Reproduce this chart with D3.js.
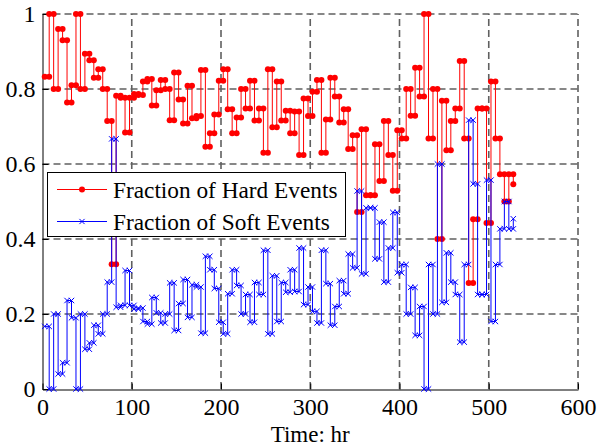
<!DOCTYPE html>
<html><head><meta charset="utf-8">
<script src="https://cdn.jsdelivr.net/npm/d3@7/dist/d3.min.js"></script>
<style>
body{margin:0;background:#fff;}
svg text{font-family:"Liberation Serif","Times New Roman",serif !important;fill:#000;}
</style>
</head><body><svg id="c" width="599" height="447"></svg>
<script>
// time of each sample (hours)
const timesHr = [
  2.5,7.5,12.5,17.5,22.5,27.5,32.5,37.5,42.5,47.5,
  52.5,57.5,62.5,67.5,72.5,77.5,82.5,87.5,92.5,97.5,
  102.5,107.5,112.5,117.5,122.5,127.5,132.5,137.5,142.5,147.5,
  152.5,157.5,162.5,167.5,172.5,177.5,182.5,187.5,192.5,197.5,
  202.5,207.5,212.5,217.5,222.5,227.5,232.5,237.5,242.5,247.5,
  252.5,257.5,262.5,267.5,272.5,277.5,282.5,287.5,292.5,297.5,
  302.5,307.5,312.5,317.5,322.5,327.5,332.5,337.5,342.5,347.5,
  352.5,357.5,362.5,367.5,372.5,377.5,382.5,387.5,392.5,397.5,
  402.5,407.5,412.5,417.5,422.5,427.5,432.5,437.5,442.5,447.5,
  452.5,457.5,462.5,467.5,472.5,477.5,482.5,487.5,492.5,497.5,
  502.5,507.5,512.5,517.5,522.5,527.5
];
const hardFrac = [
  0.833,1.0,0.80,0.96,0.93,0.764,0.81,1.0,0.80,0.894,
  0.877,0.83,0.853,0.80,0.715,0.333,0.782,0.777,0.684,0.777,
  0.787,0.784,0.82,0.827,0.756,0.797,0.824,0.80,0.717,0.844,
  0.772,0.708,0.809,0.722,0.728,0.851,0.646,0.682,0.732,0.822,
  0.853,0.746,0.682,0.724,0.80,0.748,0.822,0.716,0.748,0.63,
  0.853,0.698,0.82,0.716,0.742,0.682,0.74,0.624,0.775,0.728,
  0.793,0.824,0.63,0.719,0.83,0.78,0.711,0.746,0.64,0.677,
  0.472,0.693,0.517,0.517,0.653,0.555,0.715,0.624,0.529,0.69,
  0.668,0.80,0.729,0.857,0.78,1.0,0.668,0.80,0.40,0.769,
  0.637,0.715,0.748,0.875,0.668,0.283,0.453,0.748,0.748,0.443,
  0.82,0.668,0.573,0.50,0.573,0.546
];
const softFrac = [
  0.167,0,0.20,0.04,0.07,0.236,0.19,0,0.20,0.106,
  0.123,0.17,0.147,0.20,0.285,0.667,0.218,0.223,0.316,0.223,
  0.213,0.216,0.18,0.173,0.244,0.203,0.176,0.20,0.283,0.156,
  0.228,0.292,0.191,0.278,0.272,0.149,0.354,0.318,0.268,0.178,
  0.147,0.254,0.318,0.276,0.20,0.252,0.178,0.284,0.252,0.37,
  0.147,0.302,0.18,0.284,0.258,0.318,0.26,0.376,0.225,0.272,
  0.207,0.176,0.37,0.281,0.17,0.22,0.289,0.254,0.36,0.323,
  0.528,0.307,0.483,0.483,0.347,0.445,0.285,0.376,0.471,0.31,
  0.332,0.20,0.271,0.143,0.22,0,0.332,0.20,0.60,0.231,
  0.363,0.285,0.252,0.125,0.332,0.717,0.547,0.252,0.252,0.557,
  0.18,0.332,0.427,0.50,0.427,0.454
];
const xTicks = [0,100,200,300,400,500,600];
const yTicks = [0,0.2,0.4,0.6,0.8,1];
const yTickLabels = ["0","0.2","0.4","0.6","0.8","1"];
const seriesNames = ["Fraction of Hard Events","Fraction of Soft Events"];
const seriesColors = ["#ff0000","#0000ff"];
const xLabel = "Time: hr";

const svg = d3.select("#c");
const x = d3.scaleLinear().domain([0,600]).range([42.5,578]);
const y = d3.scaleLinear().domain([0,1]).range([389,14]);

// grid
const grid = svg.append("g").attr("stroke","#606060").attr("stroke-width",1.6).attr("stroke-dasharray","7,4").attr("fill","none");
xTicks.filter(t=>t>0).forEach(t=>{
  grid.append("line").attr("x1",x(t)).attr("x2",x(t)).attr("y1",y(0)).attr("y2",y(1));
});
yTicks.filter(t=>t>0).forEach(t=>{
  grid.append("line").attr("x1",x(0)).attr("x2",x(600)).attr("y1",y(t)).attr("y2",y(t));
});

// axes
const xAxis = d3.axisBottom(x).tickValues(xTicks).tickSizeInner(-6).tickSizeOuter(0).tickPadding(8).tickFormat(d3.format("d"));
const yAxis = d3.axisLeft(y).tickValues(yTicks).tickSizeInner(-6).tickSizeOuter(0).tickPadding(7).tickFormat((d,i)=>yTickLabels[i]);
const gx = svg.append("g").attr("transform","translate(0,389.5)").call(xAxis);
const gy = svg.append("g").attr("transform","translate(42.5,0)").call(yAxis);
[gx,gy].forEach(g=>{
  g.attr("font-family","Liberation Serif").attr("font-size",24);
  g.selectAll("path").attr("stroke","#000").attr("stroke-width",1);
  g.selectAll(".tick line").attr("stroke","#000");
  g.selectAll("text").attr("font-size",24);
});
gx.selectAll("text").attr("dy","0.71em");
gy.selectAll("text").attr("dy","0.33em");

// stairs vertices
function stairs(xs, ys){
  const pts=[];
  for(let i=0;i<xs.length;i++){
    if(i>0) pts.push([xs[i], ys[i-1]]);
    pts.push([xs[i], ys[i]]);
  }
  return pts;
}
const line = d3.line().x(d=>x(d[0])).y(d=>y(d[1]));

function drawSeries(vals, color, kind){
  const pts = stairs(timesHr, vals);
  const g = svg.append("g");
  g.append("path").attr("d", line(pts)).attr("fill","none").attr("stroke",color).attr("stroke-width",1);
  if(kind==="dot"){
    g.selectAll("circle").data(pts).enter().append("circle")
      .attr("cx",d=>x(d[0])).attr("cy",d=>y(d[1])).attr("r",3).attr("fill",color);
  } else {
    const s=2.7;
    g.selectAll("path.m").data(pts).enter().append("path").attr("class","m")
      .attr("d",d=>{const cx=x(d[0]),cy=y(d[1]);return `M${cx-s},${cy-s}L${cx+s},${cy+s}M${cx-s},${cy+s}L${cx+s},${cy-s}`;})
      .attr("stroke",color).attr("stroke-width",1).attr("fill","none");
  }
}
drawSeries(hardFrac, seriesColors[0], "dot");
drawSeries(softFrac, seriesColors[1], "x");

// x label
svg.append("text").attr("x",(x(0)+x(600))/2).attr("y",442).attr("text-anchor","middle").attr("font-size",23).text(xLabel);

// legend
const lg = svg.append("g");
lg.append("rect").attr("x",47.5).attr("y",172.5).attr("width",298).attr("height",64).attr("fill","#fff").attr("stroke","#000").attr("stroke-width",1);
const rows=[189.5,221.5];
seriesNames.forEach((name,i)=>{
  const cy=rows[i];
  lg.append("line").attr("x1",57).attr("x2",107).attr("y1",cy).attr("y2",cy).attr("stroke",seriesColors[i]).attr("stroke-width",1);
  if(i===0){
    lg.append("circle").attr("cx",82).attr("cy",cy).attr("r",3).attr("fill",seriesColors[i]);
  } else {
    const s=2.6;
    lg.append("path").attr("d",`M${82-s},${cy-s}L${82+s},${cy+s}M${82-s},${cy+s}L${82+s},${cy-s}`).attr("stroke",seriesColors[i]).attr("stroke-width",1);
  }
  lg.append("text").attr("x",113).attr("y",cy+8).attr("font-size",23.3).text(name);
});
</script>
</body></html>
